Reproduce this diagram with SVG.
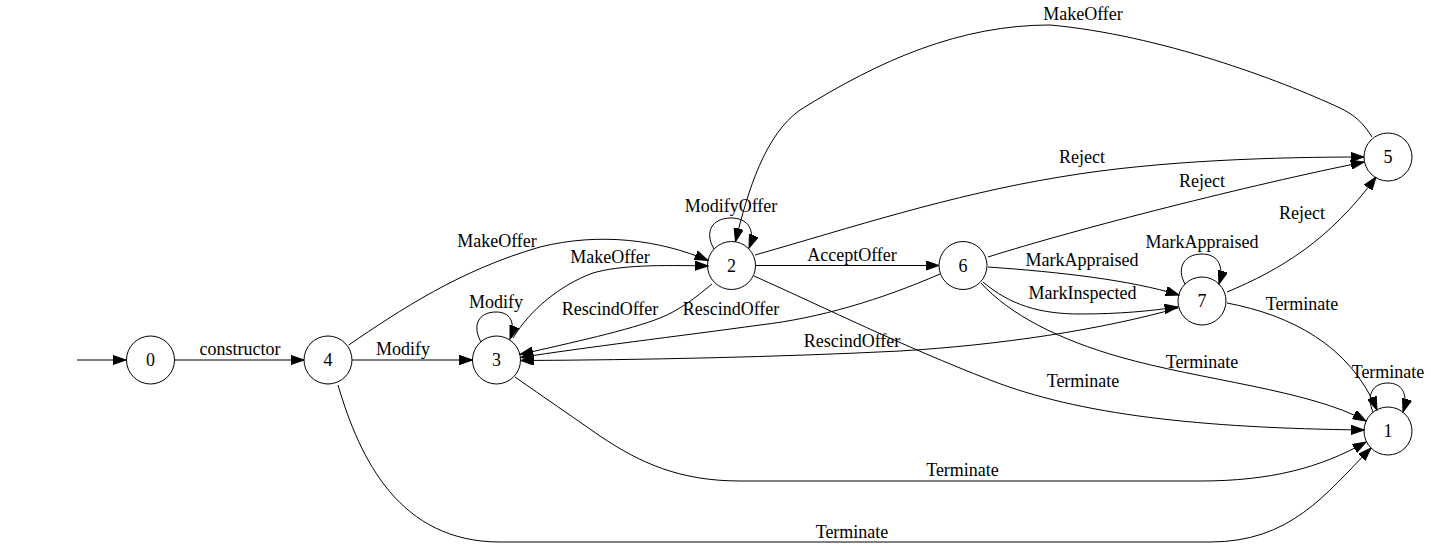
<svg xmlns="http://www.w3.org/2000/svg" width="1431" height="548" viewBox="0 0 1431 548">
<style>
.n{fill:none;stroke:#000;stroke-width:1}
.e{fill:none;stroke:#000;stroke-width:1;marker-end:url(#ah)}
.nl{font-family:"Liberation Serif","Times New Roman",serif;font-size:18px;text-anchor:middle;fill:#000}
.el{font-family:"Liberation Serif","Times New Roman",serif;font-size:18px;text-anchor:middle;fill:#000}
</style>
<defs>
<marker id="ah" markerUnits="userSpaceOnUse" markerWidth="14" markerHeight="10" refX="13.3" refY="5" orient="auto" viewBox="0 0 14 10">
<path d="M0,0.3 L13.3,5 L0,9.7 Z" fill="#000" stroke="#000" stroke-width="1"/>
</marker>
</defs>
<rect x="0" y="0" width="1431" height="548" fill="#fff"/>
<g id="connectors">
<path class="e" d="M77,360 L126,360"/>
<path class="e" d="M174.5,360 L304,360"/>
<path class="e" d="M352,360 L472.5,360"/>
<path class="e" d="M481,342 C472,326 478,312 496,312 C510,312 516,322 510,339"/>
<path class="e" d="M348.7,345 C400,310 460,270 540,247 C600,232 660,240 708,260.5"/>
<path class="e" d="M513,338 C530,310 560,285 593,273 C620,265 660,265 708,266"/>
<path class="e" d="M712,284 C695,298 680,310 660,318 C630,330 570,343 520,354.5"/>
<path class="e" d="M940,274 C880,300 820,318 760,325 C680,336 580,348 520.5,357.5"/>
<path class="e" d="M1178,308 C1100,330 1000,345 900,351 C780,357 640,360 520.5,360.5"/>
<path class="e" d="M714,249 C704,232 712,218 731,218 C748,218 756,230 749,248"/>
<path class="e" d="M1372,137 C1364,124 1355,115 1340,108 C1280,80 1160,35 1050,25 C960,25 880,60 800,110 C765,135 748,190 735.5,241.5"/>
<path class="e" d="M755,255 C850,228 950,195 1060,177 C1160,160 1280,157 1364,157"/>
<path class="e" d="M988,257 C1080,228 1250,185 1364,162"/>
<path class="e" d="M1227,292 C1280,270 1330,240 1376,177"/>
<path class="e" d="M755.5,265.5 L939,265.5"/>
<path class="e" d="M988,267 C1060,272 1130,280 1179,295"/>
<path class="e" d="M983,282 C1010,305 1040,314 1080,314 C1120,314 1150,311 1178,307"/>
<path class="e" d="M1185,284 C1176,268 1184,254 1202,254 C1216,254 1225,264 1219,284"/>
<path class="e" d="M1227,303 C1290,315 1350,345 1377,410"/>
<path class="e" d="M1373,412 C1366,396 1372,383 1388,383 C1401,383 1409,393 1403,412"/>
<path class="e" d="M981,283 C1010,315 1060,340 1120,357 C1200,380 1310,390 1366,421"/>
<path class="e" d="M754,276 C830,310 900,345 990,380 C1080,415 1200,428 1364,430"/>
<path class="e" d="M515,377 C545,398 570,415 600,436 C640,463 680,481 740,481 L1200,481 C1270,481 1320,468 1366,442"/>
<path class="e" d="M338,385 C360,460 400,542 500,542 L1210,542 C1290,542 1325,495 1371,448"/>
</g>
<g id="edge-labels">
<text class="el" x="240" y="355">constructor</text>
<text class="el" x="403" y="355">Modify</text>
<text class="el" x="496" y="308">Modify</text>
<text class="el" x="497" y="247">MakeOffer</text>
<text class="el" x="610" y="263">MakeOffer</text>
<text class="el" x="610" y="315">RescindOffer</text>
<text class="el" x="731" y="315">RescindOffer</text>
<text class="el" x="852" y="347">RescindOffer</text>
<text class="el" x="731" y="212">ModifyOffer</text>
<text class="el" x="1083" y="20">MakeOffer</text>
<text class="el" x="1082" y="162.5">Reject</text>
<text class="el" x="1202" y="187">Reject</text>
<text class="el" x="1302" y="219">Reject</text>
<text class="el" x="852" y="261">AcceptOffer</text>
<text class="el" x="1082" y="266">MarkAppraised</text>
<text class="el" x="1082.5" y="298.5">MarkInspected</text>
<text class="el" x="1202" y="248">MarkAppraised</text>
<text class="el" x="1302" y="310">Terminate</text>
<text class="el" x="1388" y="378">Terminate</text>
<text class="el" x="1202" y="368">Terminate</text>
<text class="el" x="1083" y="387">Terminate</text>
<text class="el" x="962.5" y="475.5">Terminate</text>
<text class="el" x="852" y="538">Terminate</text>
</g>
<g id="node0"><circle class="n" cx="150.5" cy="360" r="24"/><text class="nl" x="150.5" y="366">0</text></g>
<g id="node4"><circle class="n" cx="328" cy="360" r="24"/><text class="nl" x="328" y="366">4</text></g>
<g id="node3"><circle class="n" cx="496.5" cy="360" r="24"/><text class="nl" x="496.5" y="366">3</text></g>
<g id="node2"><circle class="n" cx="731.5" cy="265.5" r="24"/><text class="nl" x="731.5" y="271.5">2</text></g>
<g id="node6"><circle class="n" cx="963" cy="265.5" r="24"/><text class="nl" x="963" y="271.5">6</text></g>
<g id="node7"><circle class="n" cx="1202" cy="301" r="24"/><text class="nl" x="1202" y="307">7</text></g>
<g id="node5"><circle class="n" cx="1388" cy="157" r="24"/><text class="nl" x="1388" y="163">5</text></g>
<g id="node1"><circle class="n" cx="1388" cy="431" r="24"/><text class="nl" x="1388" y="437">1</text></g>
</svg>
